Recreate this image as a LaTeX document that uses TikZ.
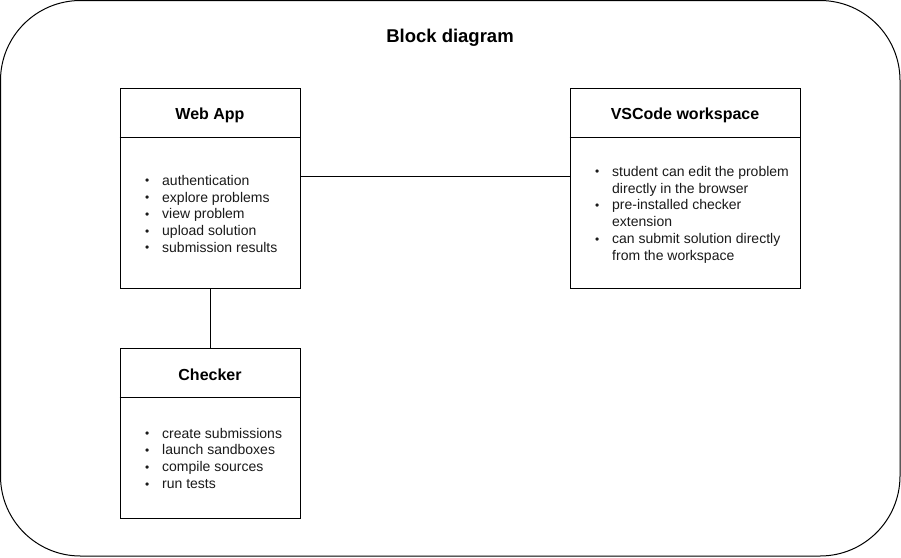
\documentclass[tikz,border=0pt]{standalone}
\usepackage{fontspec}
\setmainfont{Liberation Sans}
\usetikzlibrary{calc}
\newcommand{\listfont}{\fontsize{14}{16.8}\selectfont}
\newcommand{\headfont}{\fontsize{16}{19.2}\selectfont\bfseries}
\newcommand{\bul}{\raisebox{0.5pt}{\scalebox{0.85}{\textbullet}}}
\definecolor{txtgray}{HTML}{1A1A1A}
\tikzset{
  box/.style={draw=black, line width=1pt, fill=white, inner sep=0pt},
  head/.style={font=\headfont, inner sep=0pt, anchor=center},
  blist/.style={font=\listfont, text=txtgray, inner sep=0pt, anchor=west, align=left},
  link/.style={draw=black, line width=1pt},
}
\begin{document}
\begin{tikzpicture}[x=1pt, y=-1pt]
\useasboundingbox (0,0) rectangle (901,557);
\draw[line width=1pt, rounded corners=80pt] (0.5,0.5) rectangle (900,556);
\node[font=\fontsize{18.5}{22}\selectfont\bfseries, inner sep=0pt] (title) at (450,37.5) {Block diagram};

% Web App
\node[box, minimum width=180pt, minimum height=200pt] (webapp) at (210,188) {};
\draw[line width=1pt] ([yshift=-50pt]webapp.north west) -- ([yshift=-50pt]webapp.north east);
\node[head] (webhead) at (210,115) {Web App};
\node[blist] (weblist) at (145,215.5) {\begin{tabular}{@{}p{17pt}@{}l@{}}
\bul & authentication\\
\bul & explore problems\\
\bul & view problem\\
\bul & upload solution\\
\bul & submission results
\end{tabular}};

% VSCode workspace
\node[box, minimum width=230pt, minimum height=200pt] (vscode) at (685,188) {};
\draw[line width=1pt] ([yshift=-50pt]vscode.north west) -- ([yshift=-50pt]vscode.north east);
\node[head] (vshead) at (685,115) {VSCode workspace};
\node[blist] (vslist) at (595,215) {\begin{tabular}{@{}p{17pt}@{}l@{}}
\bul & student can edit the problem\\
 & directly in the browser\\
\bul & pre-installed checker\\
 & extension\\
\bul & can submit solution directly\\
 & from the workspace
\end{tabular}};

% Checker
\node[box, minimum width=180pt, minimum height=170pt] (checker) at (210,433) {};
\draw[line width=1pt] ([yshift=-50pt]checker.north west) -- ([yshift=-50pt]checker.north east);
\node[head] (chkhead) at (210,375) {Checker};
\node[blist] (chklist) at (145,460) {\begin{tabular}{@{}p{17pt}@{}l@{}}
\bul & create submissions\\
\bul & launch sandboxes\\
\bul & compile sources\\
\bul & run tests
\end{tabular}};

% connectors
\draw[link] ([yshift=12pt]webapp.east) -- ([yshift=12pt]vscode.west);
\draw[link] (webapp.south) -- (checker.north);
\end{tikzpicture}
\end{document}
